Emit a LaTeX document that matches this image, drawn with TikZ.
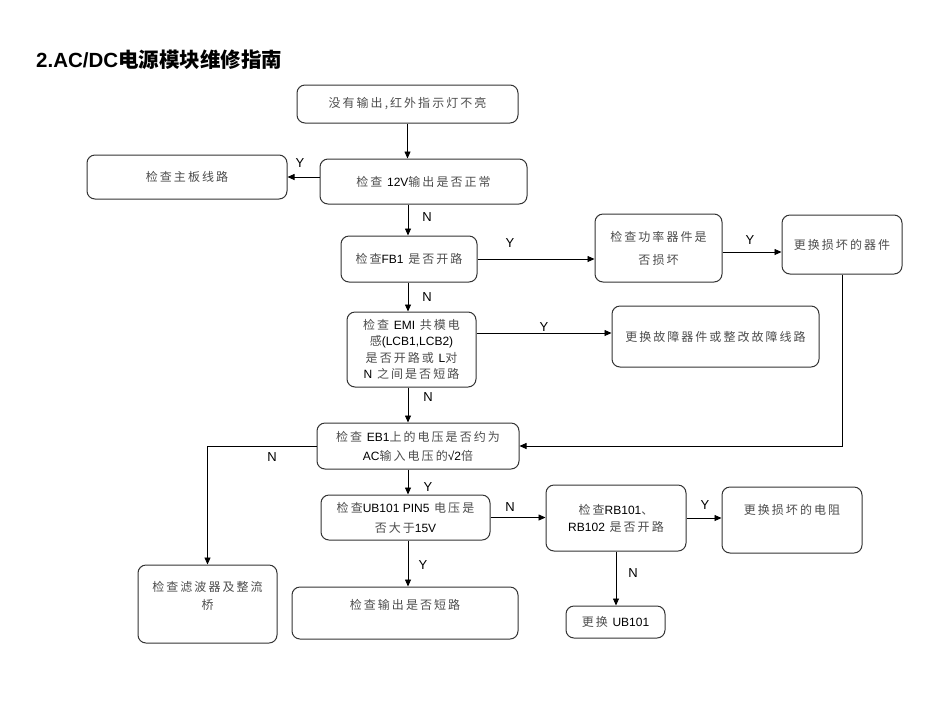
\documentclass[tikz,border=0pt]{standalone}
\usepackage{fontspec}
\setmainfont{Noto Sans CJK SC}[LetterSpace=17]
\newfontfamily\lat{Liberation Sans}
\newfontfamily\zhplain{Noto Sans CJK SC}
\usetikzlibrary{arrows.meta}
\newcommand\en[1]{{\lat\color{black}#1}}
\begin{document}
\begin{tikzpicture}[x=1pt,y=-1pt,
 box/.style={draw=black!80, line width=1pt, rounded corners=8pt, align=center, inner sep=0pt, text=black!70, font=\fontsize{12}{17}\selectfont},
 txt/.style={align=center, inner sep=0pt, text=black!70, font=\fontsize{12}{18}\selectfont},
 arr/.style={-{Triangle[length=7pt,width=6pt]}, line width=0.8pt},
 lab/.style={font=\lat\fontsize{13}{15}\selectfont, inner sep=0pt}]
\path[use as bounding box] (0,0) rectangle (950,713);
\coordinate (sp) at (408,0);
\node[anchor=base west, inner sep=0pt, font=\zhplain\bfseries\fontsize{20.5}{24}\selectfont] (title) at (36,67) {\en{2.AC/DC}电源模块维修指南};

\node[box, minimum width=221pt, minimum height=38pt] (top) at (407.5,104) {没有输出,红外指示灯不亮};
\node[box, minimum width=200pt, minimum height=44pt] (main) at (187,177) {检查主板线路};
\node[box, minimum width=207pt, minimum height=45pt] (v12) at (423.5,181.5) {检查 \en{12V}输出是否正常};
\node[box, minimum width=136pt, minimum height=46pt] (fb1) at (409,259) {检查\en{FB1} 是否开路};
\node[box, minimum width=127pt, minimum height=68pt, font=\fontsize{12}{23}\selectfont] (pwr) at (658.5,248) {检查功率器件是\\否损坏};
\node[box, minimum width=120pt, minimum height=59pt] (rep) at (842,244.5) {更换损坏的器件};
\node[box, minimum width=129pt, minimum height=75pt, font=\fontsize{12}{16.5}\selectfont] (emi) at (411.5,349.5) {检查 \en{EMI} 共模电\\感\en{(LCB1,LCB2)}\\是否开路或 \en{L}对\\\en{N} 之间是否短路};
\node[box, minimum width=207pt, minimum height=61pt] (fault) at (715.5,336.5) {更换故障器件或整改故障线路};
\node[box, minimum width=202pt, minimum height=46pt, font=\fontsize{12}{19}\selectfont] (eb1) at (418,446) {检查 \en{EB1}上的电压是否约为\\\en{AC}输入电压的\en{√2}倍};
\node[box, minimum width=139pt, minimum height=78pt] (filt) at (207.5,604) {};
\node[txt] (filtt) at (207.5,596) {检查滤波器及整流\\桥};
\node[box, minimum width=169pt, minimum height=45pt, font=\fontsize{12}{20}\selectfont] (ub) at (405.5,517.5) {检查\en{UB101 PIN5} 电压是\\否大于\en{15V}};
\node[box, minimum width=226pt, minimum height=52pt] (out) at (405,613) {};
\node[txt] (outt) at (405,605) {检查输出是否短路};
\node[box, minimum width=140pt, minimum height=66pt] (rb) at (616,518) {检查\en{RB101}、\\\en{RB102} 是否开路};
\node[box, minimum width=140pt, minimum height=66pt] (res) at (792,520) {};
\node[txt] (rest) at (792,510) {更换损坏的电阻};
\node[box, minimum width=99pt, minimum height=32pt] (ubr) at (615.5,622) {更换 \en{UB101}};

\draw[arr] (top.south) -- (top.south |- v12.north);
\draw[arr] (v12.west |- main.east) -- (main.east);
\draw[arr] (sp |- v12.south) -- (sp |- fb1.north);
\draw[arr] (fb1.east) -- (fb1.east -| pwr.west);
\draw[arr] ([yshift=-4pt]pwr.east) -- ([yshift=-4pt]pwr.east -| rep.west);
\draw[arr] (sp |- fb1.south) -- (sp |- emi.north);
\draw[arr] ([yshift=16.5pt]emi.east) -- ([yshift=16.5pt]emi.east -| fault.west);
\draw[arr] (sp |- emi.south) -- (sp |- eb1.north);
\draw[arr] (rep.south) |- (eb1.east);
\draw[arr] (eb1.west) -| (filt.north);
\draw[arr] (sp |- eb1.south) -- (sp |- ub.north);
\draw[arr] (sp |- ub.south) -- (sp |- out.north);
\draw[arr] (ub.east) -- (ub.east -| rb.west);
\draw[arr] (rb.east) -- (rb.east -| res.west);
\draw[arr] (rb.south) -- (rb.south |- ubr.north);

\node[lab] (l1) at (300,163) {Y};
\node[lab] (l2) at (427,217) {N};
\node[lab] (l3) at (510,243) {Y};
\node[lab] (l4) at (750,240) {Y};
\node[lab] (l5) at (427,297) {N};
\node[lab] (l6) at (544,327) {Y};
\node[lab] (l7) at (428,397) {N};
\node[lab] (l8) at (272,457) {N};
\node[lab] (l9) at (428,487) {Y};
\node[lab] (l10) at (510,507) {N};
\node[lab] (l11) at (705,505) {Y};
\node[lab] (l12) at (633,573) {N};
\node[lab] (l13) at (423,565) {Y};
\end{tikzpicture}
\end{document}
